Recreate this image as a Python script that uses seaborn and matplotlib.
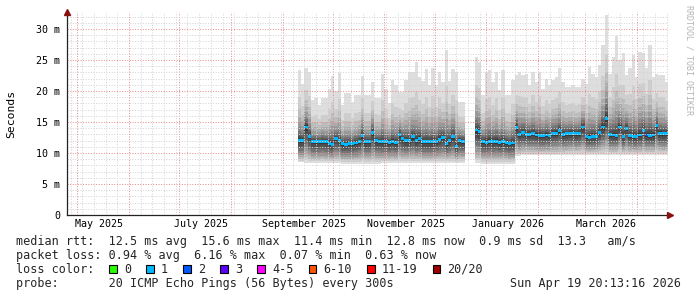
import numpy as np
import pandas as pd
import matplotlib
matplotlib.use("Agg")
import matplotlib.pyplot as plt
import matplotlib.dates as mdates
import matplotlib.transforms as mtrans
from matplotlib.patches import Rectangle
import seaborn as sns
from datetime import datetime, timedelta

sns.set_theme(style="white")
plt.rcParams["font.family"] = ["DejaVu Sans Mono", "DejaVu Sans"]

# ---------------- data (ms), one sample per 2 days from 2025-09-10 ----------------
first_day = datetime(2025, 9, 10)
step_days = 2
nan = np.nan

median_ms = [12.0, 12.0, 14.2, 12.7, 11.8, 11.8, 11.8, 11.9, 11.8, 11.5,
             11.4, 12.3, 12.0, 11.5, 11.4, 11.5, 11.5, 11.6, 11.9, 12.8,
             11.8, 11.8, 13.3, 12.0, 11.9, 11.8, 11.8, 11.7, 11.9, 11.7,
             13.0, 12.3, 12.0, 12.0, 12.6, 12.0, 12.4, 11.8, 11.8, 11.8,
             11.8, 11.9, 12.2, 12.5, 11.5, 12.0, 12.6, 11.1, 12.0, 11.9,
             nan, nan, nan, 13.7, 13.5, 11.8, 11.7, 11.9, 11.8, 11.9,
             11.7, 11.8, 11.7, 11.5, 11.6, 14.1, 13.0, 13.3, 13.0, 13.0,
             13.1, 12.9, 12.8, 12.8, 12.9, 12.8, 13.2, 13.2, 13.6, 13.0,
             13.1, 13.2, 13.2, 13.1, 13.2, 14.2, 12.6, 12.5, 12.7, 12.7,
             13.3, 14.2, 15.6, 13.0, 12.9, 12.8, 14.2, 12.7, 14.0, 12.8,
             12.6, 12.7, 12.9, 13.6, 12.9, 12.8, 12.9, 14.4, 13.2, 13.1,
             13.2]

max_ms = [23.4, 21.1, 23.7, 23.1, 18.5, 18.8, 17.7, 18.8, 18.8, 20.4,
          22.5, 20.0, 22.9, 17.7, 19.6, 19.6, 18.2, 19.4, 19.4, 22.5,
          19.4, 19.4, 21.5, 18.8, 18.8, 22.8, 20.4, 18.0, 21.8, 21.0,
          19.8, 19.8, 21.8, 23.1, 23.0, 24.7, 22.2, 21.6, 23.5, 20.9,
          23.7, 20.9, 23.1, 21.5, 26.6, 21.6, 23.5, 23.1, 18.3, 18.3,
          nan, nan, nan, 25.5, 24.7, 19.4, 23.1, 23.4, 21.5, 23.1,
          20.2, 23.4, 19.4, 19.4, 21.8, 22.6, 23.1, 22.6, 22.8, 21.0,
          23.1, 21.5, 23.1, 20.4, 22.0, 21.0, 21.8, 22.3, 23.7, 21.5,
          20.7, 20.7, 21.0, 20.7, 20.7, 22.0, 21.2, 23.9, 22.8, 22.3,
          24.2, 27.4, 32.3, 22.8, 25.5, 28.8, 25.0, 26.1, 22.6, 23.7,
          25.8, 22.3, 26.3, 26.1, 23.7, 27.4, 22.3, 22.8, 22.6, 22.6,
          21.5]

min_ms = [8.5, 8.5, 8.4, 8.4, 8.4, 8.4, 8.4, 8.4, 8.4, 8.4,
          8.4, 8.4, 8.4, 8.3, 8.3, 8.3, 8.3, 8.3, 8.3, 8.3,
          8.3, 8.3, 8.3, 8.3, 8.3, 8.4, 8.4, 8.4, 8.4, 8.4,
          8.4, 8.4, 8.4, 8.4, 8.4, 8.4, 8.4, 8.4, 8.4, 8.4,
          8.4, 8.4, 8.4, 8.4, 8.4, 8.4, 8.4, 8.4, 8.4, 8.4,
          nan, nan, nan, 8.4, 8.4, 8.3, 8.3, 8.3, 8.3, 8.3,
          8.3, 8.3, 8.3, 8.3, 8.3, 9.5, 9.5, 9.6, 9.6, 9.6,
          9.6, 9.6, 9.6, 9.6, 9.6, 9.6, 9.6, 9.6, 9.6, 9.6,
          9.7, 9.7, 9.7, 9.7, 9.7, 9.7, 9.7, 9.7, 9.7, 9.7,
          9.7, 9.7, 9.7, 9.7, 9.7, 9.7, 9.7, 9.7, 9.7, 9.7,
          9.7, 9.7, 9.7, 9.7, 9.7, 9.7, 9.7, 9.7, 9.7, 9.7,
          9.7]

loss_level = [1, 1, 1, 1, 1, 1, 1, 1, 1, 1,
              1, 1, 1, 1, 1, 1, 1, 1, 1, 1,
              1, 1, 1, 1, 1, 1, 1, 1, 1, 1,
              1, 1, 1, 1, 1, 1, 1, 1, 1, 1,
              1, 1, 1, 1, 1, 1, 1, 1, 1, 1,
              1, 1, 1, 1, 1, 1, 1, 1, 1, 1,
              1, 1, 1, 1, 1, 1, 1, 1, 1, 1,
              1, 1, 1, 1, 1, 1, 1, 1, 1, 1,
              1, 1, 1, 1, 1, 1, 1, 1, 1, 1,
              1, 1, 1, 1, 1, 1, 1, 1, 1, 1,
              1, 1, 1, 1, 2, 1, 1, 1, 1, 1,
              1]

loss_labels = ["0", "1", "2", "3", "4-5", "6-10", "11-19", "20/20"]
loss_colors = ["#26ff00", "#00b8ff", "#0059ff", "#5e00ff", "#ff00ff",
               "#ff5500", "#ff0000", "#a10000"]

y_ticks = [0, 5, 10, 15, 20, 25, 30]
y_tick_labels = ["0", "5 m", "10 m", "15 m", "20 m", "25 m", "30 m"]
month_labels = ["May 2025", "July 2025", "September 2025", "November 2025",
                "January 2026", "March 2026"]
month_label_dates = [datetime(2025, 5, 14), datetime(2025, 7, 14), datetime(2025, 9, 14),
                     datetime(2025, 11, 14), datetime(2026, 1, 14), datetime(2026, 3, 14)]

legend_lines = [
    "median rtt:  12.5 ms avg  15.6 ms max  11.4 ms min  12.8 ms now  0.9 ms sd  13.3   am/s",
    "packet loss: 0.94 % avg  6.16 % max  0.07 % min  0.63 % now",
]
probe_text = "probe:       20 ICMP Echo Pings (56 Bytes) every 300s"
stamp_text = "Sun Apr 19 20:13:16 2026"

end_time = datetime(2026, 4, 19, 20, 13, 16)
start_time = end_time - timedelta(days=360)

# ---------------- frame ----------------
df = pd.DataFrame({"median": median_ms, "hi": max_ms, "lo": min_ms, "loss": loss_level})
df["t"] = [mdates.date2num(first_day + timedelta(days=step_days * i)) for i in range(len(df))]
df = df.dropna()

W, H = 697, 297
fig = plt.figure(figsize=(W / 100, H / 100), dpi=100)
fig.patch.set_facecolor("white")
ax = fig.add_axes([67 / W, 1 - 215 / H, 601 / W, 203 / H])
ax.set_facecolor("white")

# smoke bands (outer -> inner)
fu = [1.0, 0.62, 0.45, 0.34, 0.26, 0.19, 0.14, 0.095, 0.06, 0.03]
fl = [1.0, 0.92, 0.84, 0.75, 0.66, 0.56, 0.46, 0.35, 0.23, 0.11]
greys = ["#dedede", "#cdcdcd", "#bcbcbc", "#ababab", "#999999",
         "#878787", "#747474", "#616161", "#4e4e4e", "#3a3a3a"]
med = df["median"].values
for k in range(len(fu)):
    top = med + (df["hi"].values - med) * fu[k]
    bot = med - (med - df["lo"].values) * fl[k]
    ax.bar(df["t"].values, top - bot, bottom=bot, width=step_days, align="edge",
           color=greys[k], linewidth=0, zorder=1)

# median
band = 0.45
ax.bar(df["t"].values, band, bottom=med - band / 2, width=step_days, align="edge",
       color=[loss_colors[int(l)] for l in df["loss"].values], linewidth=0, zorder=2)

# axes ranges
ax.set_xlim(mdates.date2num(start_time), mdates.date2num(end_time))
ax.set_ylim(0, 203 / 6.2)

ax.yaxis.set_major_locator(matplotlib.ticker.FixedLocator(y_ticks))
ax.yaxis.set_minor_locator(matplotlib.ticker.MultipleLocator(1))
ax.set_yticklabels(y_tick_labels)
ax.xaxis.set_major_locator(mdates.MonthLocator(bymonthday=1))
ax.xaxis.set_minor_locator(mdates.WeekdayLocator(byweekday=mdates.SU))

major_c = (0.9, 0.55, 0.55)
minor_c = (0.83, 0.83, 0.83)
ax.set_axisbelow(False)
ax.grid(which="minor", color=minor_c, linewidth=0.72, linestyle=(0, (1, 1.6)))
ax.grid(which="major", color=major_c, linewidth=0.72, linestyle=(0, (1, 1.6)))
ax.tick_params(axis="both", which="both", direction="out", length=3, width=0.72)
ax.tick_params(axis="both", which="major", color=major_c)
ax.tick_params(axis="both", which="minor", color=minor_c)
ax.tick_params(axis="x", labelbottom=False)
ax.tick_params(axis="y", labelsize=7.2, pad=2, labelcolor="black")

sns.despine(ax=ax, top=True, right=True)
for s in ("left", "bottom"):
    ax.spines[s].set_color("#222222")
    ax.spines[s].set_linewidth(0.9)
    ax.spines[s].set_zorder(5)

# arrows
ax.plot([0], [1.0], marker="^", markersize=4, color="#8b1010", transform=ax.transAxes,
        clip_on=False, zorder=6)
ax.plot([1.004], [0], marker=">", markersize=4, color="#8b1010", transform=ax.transAxes,
        clip_on=False, zorder=6)

# month labels
blend = mtrans.blended_transform_factory(ax.transData, ax.transAxes)
for d, lab in zip(month_label_dates, month_labels):
    ax.text(mdates.date2num(d), -9 / 203, lab, transform=blend, ha="center", va="center",
            fontsize=7.2, color="black")

# y label
fig.text(11 / W, 1 - 114 / H, "Seconds", rotation=90, ha="center", va="center",
         fontsize=8.2, color="black")

# vertical watermark
fig.text(688.5 / W, 1 - 60 / H, "RRDTOOL / TOBI OETIKER", rotation=270, ha="center",
         va="center", fontsize=6, color="#b4b4b4")

# legend text
fs = 8.5
fig.text(16 / W, 1 - 241.3 / H, legend_lines[0], ha="left", va="center", fontsize=fs)
fig.text(16 / W, 1 - 255.3 / H, legend_lines[1], ha="left", va="center", fontsize=fs)
fig.text(16 / W, 1 - 269.3 / H, "loss color:", ha="left", va="center", fontsize=fs)
fig.text(16 / W, 1 - 283 / H, probe_text, ha="left", va="center", fontsize=fs)
fig.text(681 / W, 1 - 283 / H, stamp_text, ha="right", va="center", fontsize=fs)

bx = 109.0
for lab, col in zip(loss_labels, loss_colors):
    fig.patches.append(Rectangle((bx / W, 1 - 273.3 / H), 7.5 / W, 8 / H,
                                 transform=fig.transFigure, facecolor=col,
                                 edgecolor="black", linewidth=0.8))
    fig.text((bx + 15) / W, 1 - 269.3 / H, lab, ha="left", va="center", fontsize=fs)
    bx += 30 + 7.1 * len(lab)

fig.savefig("out.png", dpi=100, facecolor="white")
